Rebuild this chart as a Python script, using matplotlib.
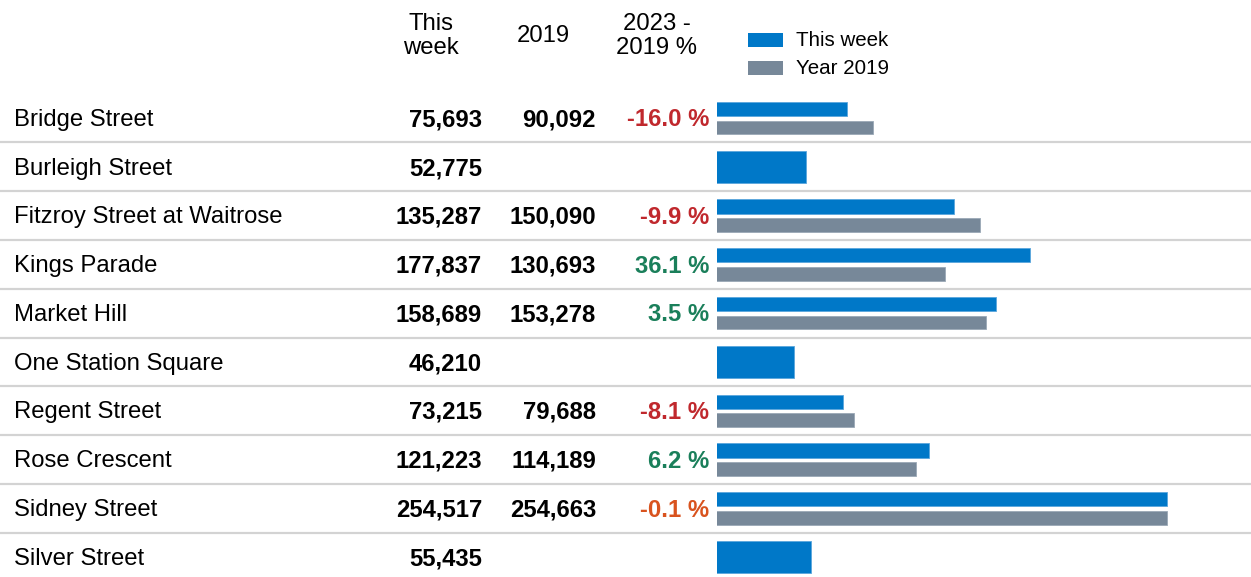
import matplotlib
matplotlib.use("Agg")
import matplotlib.pyplot as plt
from matplotlib.patches import Rectangle

plt.rcParams['font.family'] = ['Liberation Sans', 'DejaVu Sans']

locations = ["Bridge Street", "Burleigh Street", "Fitzroy Street at Waitrose", "Kings Parade",
             "Market Hill", "One Station Square", "Regent Street", "Rose Crescent",
             "Sidney Street", "Silver Street"]
this_week = [75693, 52775, 135287, 177837, 158689, 46210, 73215, 121223, 254517, 55435]
year_2019 = [90092, None, 150090, 130693, 153278, None, 79688, 114189, 254663, None]
pct_change = [-16.0, None, -9.9, 36.1, 3.5, None, -8.1, 6.2, -0.1, None]

BLUE = "#0078C8"
GRAY = "#778899"
RED = "#C0282D"
GREEN = "#1A7F5A"
ORANGE = "#D9531E"

W, H = 1251, 577
fig = plt.figure(figsize=(W / 100, H / 100), dpi=100)

# table axes in pixel coordinates
tax = fig.add_axes([0, 0, 1, 1])
tax.set_xlim(0, W)
tax.set_ylim(H, 0)
tax.axis("off")

row0, step = 118.0, 48.78
fs = 17.2
ty = 1.8  # text vertical nudge

# headers
tax.text(431, 36, "This\nweek", ha="center", va="center", fontsize=fs, linespacing=1.12)
tax.text(543, 36, "2019", ha="center", va="center", fontsize=fs)
tax.text(657, 36, "2023 -\n2019 %", ha="center", va="center", fontsize=fs, linespacing=1.12)

# legend
tax.add_patch(Rectangle((748, 33), 35, 14, color=BLUE, lw=0))
tax.add_patch(Rectangle((748, 61), 35, 14, color=GRAY, lw=0))
tax.text(796, 41, "This week", ha="left", va="center", fontsize=14.8)
tax.text(796, 68.5, "Year 2019", ha="left", va="center", fontsize=14.8)

for i, name in enumerate(locations):
    y = row0 + step * i + ty
    tax.text(14, y, name, ha="left", va="center", fontsize=fs)
    tax.text(482, y, f"{this_week[i]:,}", ha="right", va="center", fontsize=fs, fontweight="bold")
    if year_2019[i] is not None:
        tax.text(596, y, f"{year_2019[i]:,}", ha="right", va="center", fontsize=fs, fontweight="bold")
    p = pct_change[i]
    if p is not None:
        col = GREEN if p > 0 else (ORANGE if p > -1 else RED)
        tax.text(709, y, f"{p:.1f} %", ha="right", va="center", fontsize=fs,
                 fontweight="bold", color=col)
    if i > 0:
        yl = row0 + step * (i - 0.5)
        tax.plot([0, W], [yl, yl], color="#D3D3D3", lw=1.6, solid_capstyle="butt")

# bar axes
top_px = row0 - step * 0.5
bot_px = H
bax = fig.add_axes([717 / W, 1 - bot_px / H, (W - 717) / W, (bot_px - top_px) / H])
bax.set_ylim((bot_px - row0) / step, -0.5)
scale = 0.0017894
xmin = 3018
bax.set_xlim(xmin, xmin + (W - 717) / scale)
bax.axis("off")

for i in range(len(locations)):
    if year_2019[i] is None:
        bax.barh(i, this_week[i], height=0.66, color=BLUE, edgecolor="#5aa6dc", lw=0.6)
    else:
        bax.barh(i - 0.185, this_week[i], height=0.29, color=BLUE, edgecolor="#5aa6dc", lw=0.6)
        bax.barh(i + 0.195, year_2019[i], height=0.28, color=GRAY, edgecolor="#9aa8b6", lw=0.6)

fig.savefig("out.png", dpi=100)
